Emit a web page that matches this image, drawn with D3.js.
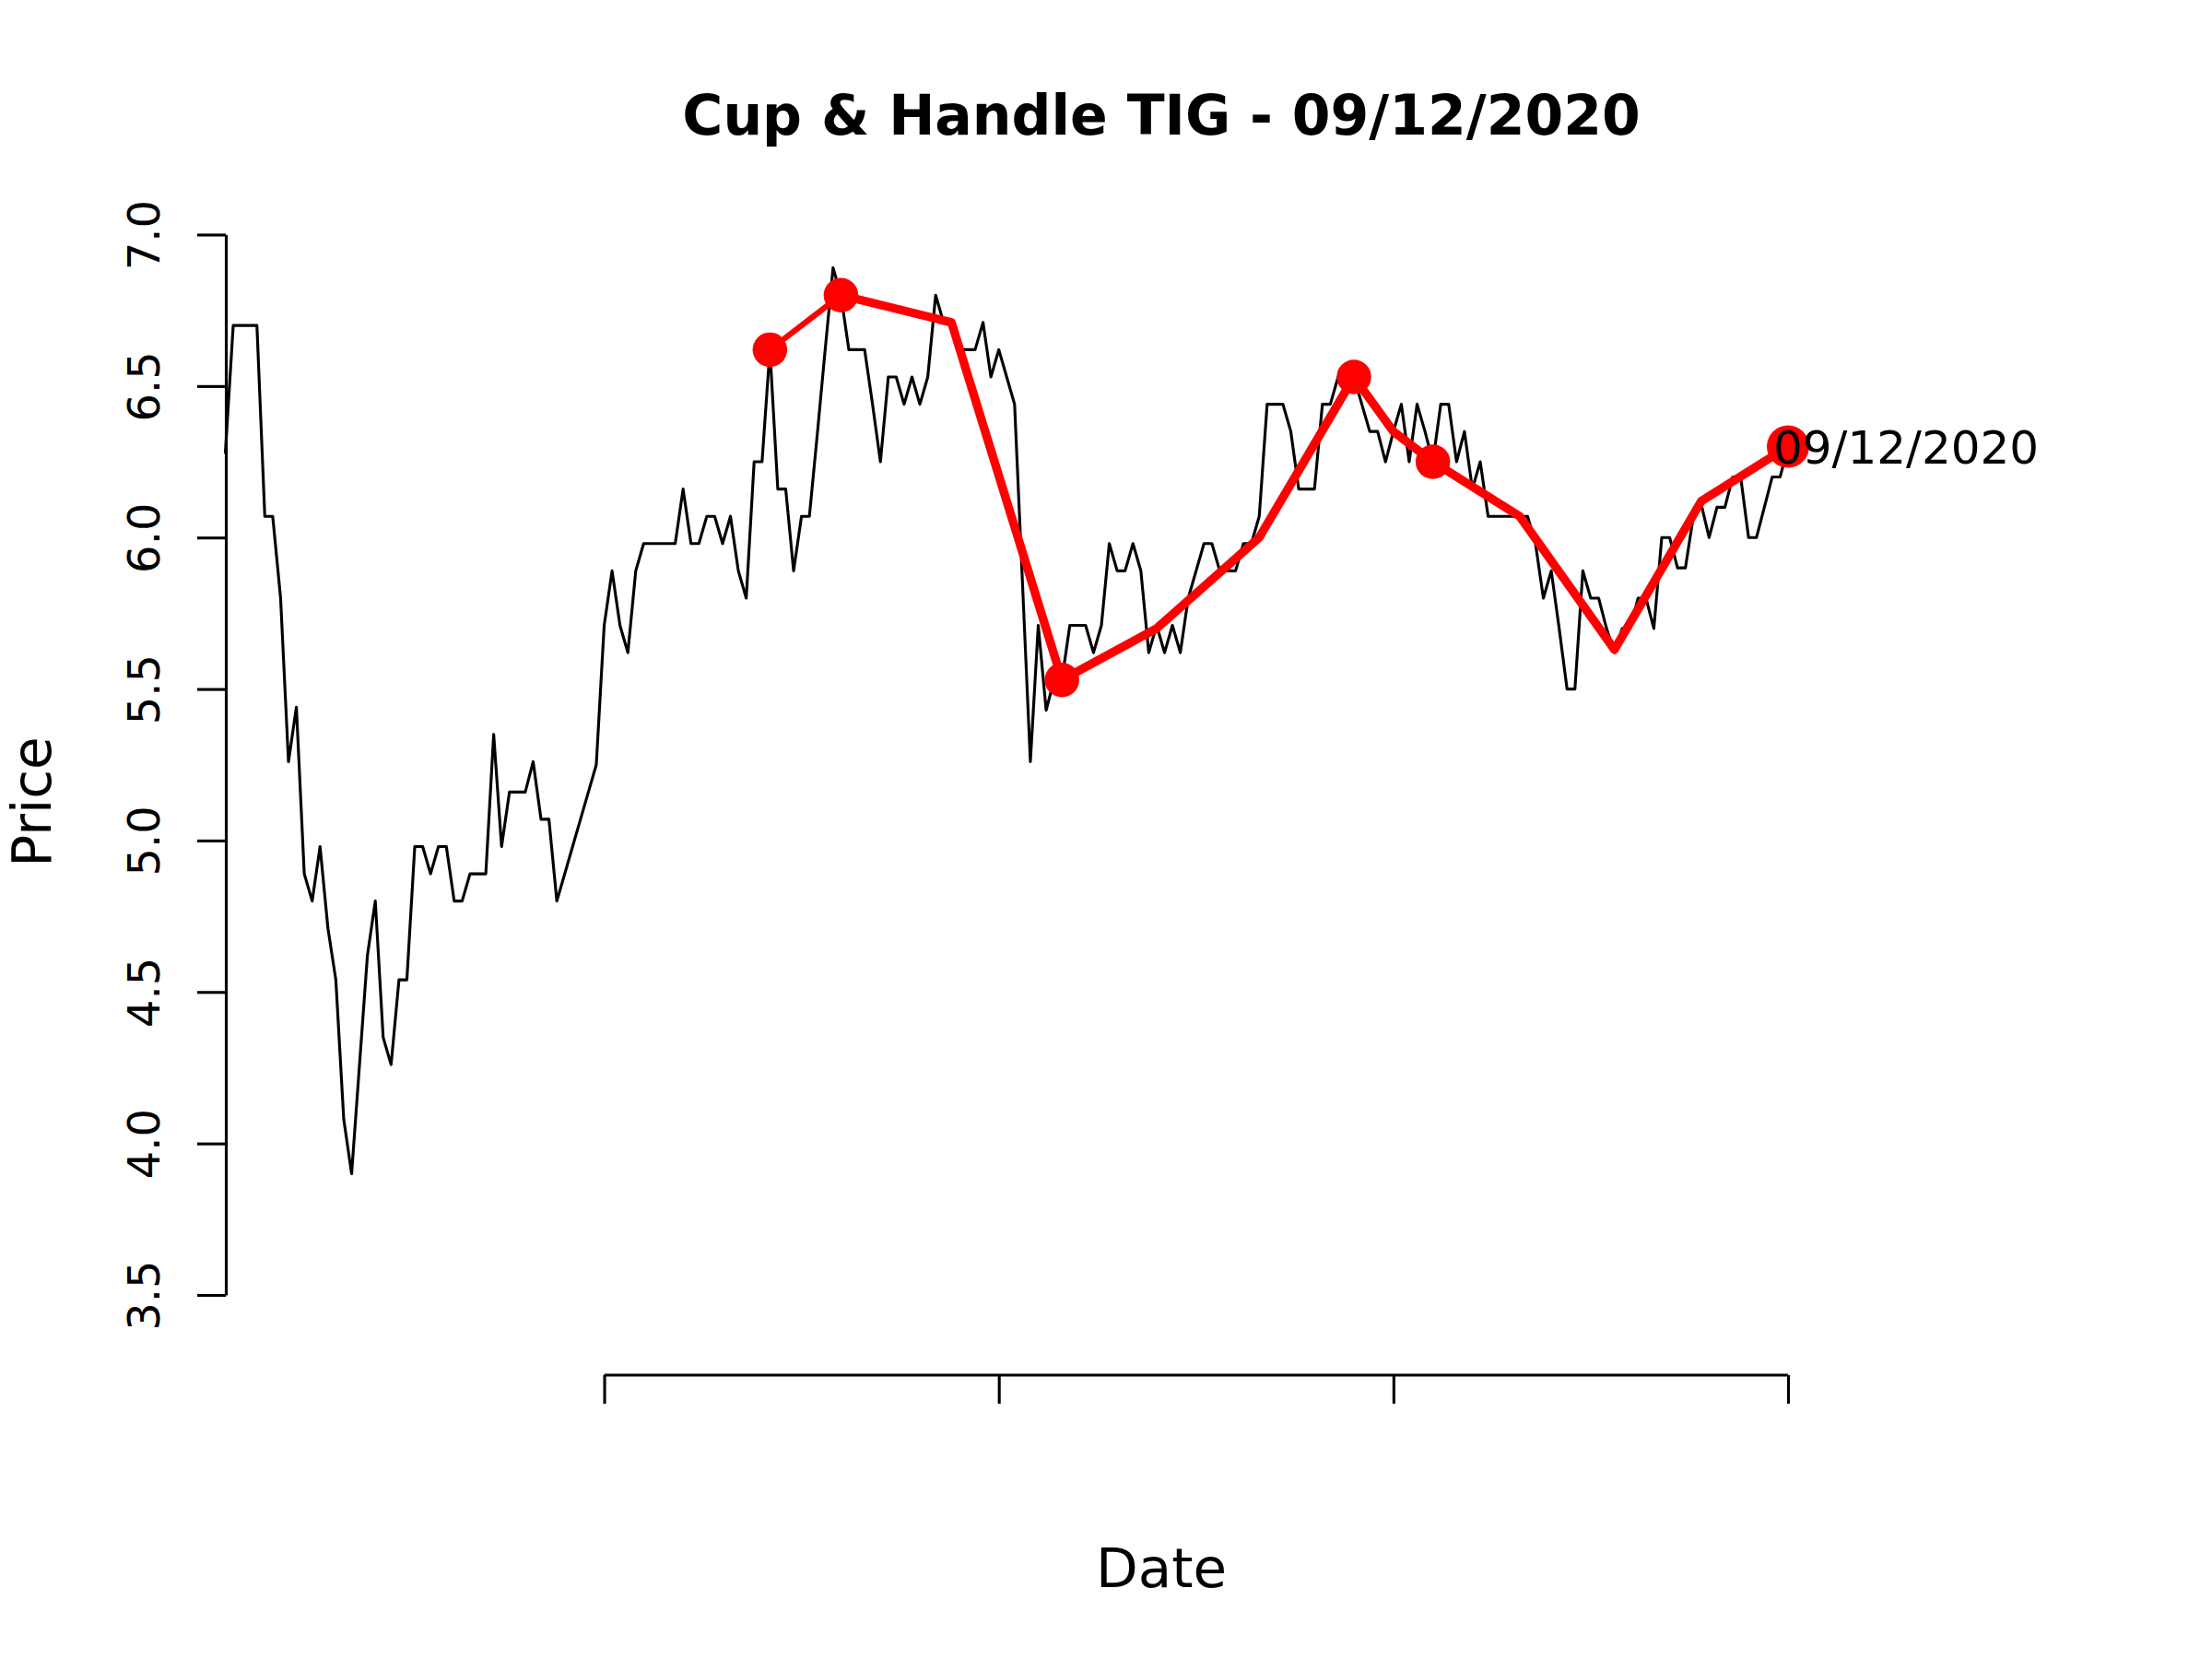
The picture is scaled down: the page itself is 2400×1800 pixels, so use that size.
<!DOCTYPE html>
<html>
<head>
<meta charset="utf-8">
<script src="https://cdn.jsdelivr.net/npm/d3@7"></script>
<style>
  body { margin: 0; background: #fff; }
  svg text { font-family: "DejaVu Sans", sans-serif; fill: #000; }
</style>
</head>
<body>
<div id="graph"></div>
<script>
// Closing prices, one per trading day (array index = day number)
const closePrices = [
  6.28, 6.70, 6.70, 6.70, 6.70, 6.07, 6.07, 5.80, 5.26, 5.44,
  4.89, 4.80, 4.98, 4.71, 4.54, 4.08, 3.90, 4.26, 4.62, 4.80,
  4.35, 4.26, 4.54, 4.54, 4.98, 4.98, 4.89, 4.98, 4.98, 4.80,
  4.80, 4.89, 4.89, 4.89, 5.35, 4.98, 5.16, 5.16, 5.16, 5.26,
  5.07, 5.07, 4.80, 4.89, 4.98, 5.07, 5.16, 5.25, 5.71, 5.89,
  5.71, 5.62, 5.89, 5.98, 5.98, 5.98, 5.98, 5.98, 6.16, 5.98,
  5.98, 6.07, 6.07, 5.98, 6.07, 5.89, 5.80, 6.25, 6.25, 6.62,
  6.16, 6.16, 5.89, 6.07, 6.07, 6.34, 6.62, 6.89, 6.80, 6.62,
  6.62, 6.62, 6.44, 6.25, 6.53, 6.53, 6.44, 6.53, 6.44, 6.53,
  6.80, 6.71, 6.71, 6.62, 6.62, 6.62, 6.71, 6.53, 6.62, 6.53,
  6.44, 5.85, 5.26, 5.71, 5.43, 5.53, 5.53, 5.71, 5.71, 5.71,
  5.62, 5.71, 5.98, 5.89, 5.89, 5.98, 5.89, 5.62, 5.71, 5.62,
  5.71, 5.62, 5.80, 5.89, 5.98, 5.98, 5.89, 5.89, 5.89, 5.98,
  5.98, 6.07, 6.44, 6.44, 6.44, 6.35, 6.16, 6.16, 6.16, 6.44,
  6.44, 6.53, 6.53, 6.53, 6.44, 6.35, 6.35, 6.25, 6.35, 6.44,
  6.25, 6.44, 6.35, 6.25, 6.44, 6.44, 6.25, 6.35, 6.16, 6.25,
  6.07, 6.07, 6.07, 6.07, 6.07, 6.07, 5.98, 5.80, 5.89, 5.70,
  5.50, 5.50, 5.89, 5.80, 5.80, 5.70, 5.62, 5.70, 5.70, 5.80,
  5.80, 5.70, 6.00, 6.00, 5.90, 5.90, 6.07, 6.11, 6.00, 6.10,
  6.10, 6.20, 6.20, 6.00, 6.00, 6.10, 6.20, 6.20, 6.30
];

// Cup & handle outline (red)
const patternDays = [69, 78, 92, 106, 118, 131, 143, 148, 153, 164, 176, 187, 198];
const patternPrices = [6.62, 6.80, 6.71, 5.53, 5.70, 6.00, 6.53, 6.35, 6.25, 6.07, 5.63, 6.12, 6.30];
// pattern points that get a dot
const markedDays = [69, 78, 106, 143, 153, 198];

const yTicks = [3.5, 4.0, 4.5, 5.0, 5.5, 6.0, 6.5, 7.0];
const xTickDays = [48, 98, 148, 198];

const TITLE = "Cup & Handle TIG - 09/12/2020";
const LAST_LABEL = "09/12/2020";

// ------------------------ D3 ------------------------
const WIDTH = 2400;
const HEIGHT = 1800;
const AXIS_X = 245;
const AXIS_Y = 1492;
const LWD = 3.125; // R lwd = 1 at 300 dpi

const SVG = d3
  .select("#graph")
  .append("svg")
  .attr("width", WIDTH)
  .attr("height", HEIGHT);

const x = d3.scaleLinear().domain([0, closePrices.length - 1]).range([244.5, 1940]);
const y = d3.scaleLinear().domain([3.5, 7.0]).range([1405, 254.5]);

// y axis, labels parallel to the axis like R's default
const yAxis = SVG.append("g")
  .attr("transform", `translate(${AXIS_X}, 0)`)
  .call(
    d3.axisLeft(y)
      .tickValues(yTicks)
      .tickSize(31)
      .tickSizeOuter(0)
      .tickFormat(d3.format(".1f"))
  );
yAxis.selectAll("path, line").attr("stroke", "#000").attr("stroke-width", LWD);
yAxis.selectAll("text")
  .attr("transform", "rotate(-90)")
  .attr("x", 0)
  .attr("y", -72)
  .attr("dy", null)
  .attr("text-anchor", "middle")
  .style("font-size", "48px")
  .style("font-family", "DejaVu Sans, sans-serif");

// x axis: ticks only, no labels, line only between first and last tick
const xAxis = SVG.append("g")
  .attr("transform", `translate(0, ${AXIS_Y})`)
  .call(
    d3.axisBottom(x)
      .tickValues(xTickDays)
      .tickSize(31)
      .tickSizeOuter(0)
      .tickFormat(() => "")
  );
xAxis.select(".domain")
  .attr("d", `M${x(xTickDays[0])},0H${x(xTickDays[xTickDays.length - 1])}`);
xAxis.selectAll("path, line").attr("stroke", "#000").attr("stroke-width", LWD);

// price line
const priceLine = d3.line()
  .x((d, i) => x(i))
  .y((d) => y(d));

SVG.append("path")
  .datum(closePrices)
  .attr("d", priceLine)
  .attr("fill", "none")
  .attr("stroke", "#000")
  .attr("stroke-width", LWD)
  .attr("stroke-linejoin", "round")
  .attr("stroke-linecap", "round");

// pattern outline, first leg thinner
const pattern = patternDays.map((d, i) => ({ day: d, price: patternPrices[i] }));
const patLine = d3.line()
  .x((d) => x(d.day))
  .y((d) => y(d.price));

SVG.append("path")
  .datum(pattern.slice(0, 2))
  .attr("d", patLine)
  .attr("fill", "none")
  .attr("stroke", "#ff0000")
  .attr("stroke-width", LWD * 2)
  .attr("stroke-linecap", "round");

SVG.append("path")
  .datum(pattern.slice(1))
  .attr("d", patLine)
  .attr("fill", "none")
  .attr("stroke", "#ff0000")
  .attr("stroke-width", LWD * 3)
  .attr("stroke-linejoin", "round")
  .attr("stroke-linecap", "round");

const lastDay = patternDays[patternDays.length - 1];
SVG.selectAll("circle.dot")
  .data(pattern.filter((d) => markedDays.includes(d.day)))
  .join("circle")
  .attr("class", "dot")
  .attr("cx", (d) => x(d.day))
  .attr("cy", (d) => y(d.price))
  .attr("r", (d) => (d.day === lastDay ? 23 : 18.75))
  .attr("fill", "#ff0000");

// label on the last point
SVG.append("text")
  .attr("x", x(lastDay) - 16)
  .attr("y", y(patternPrices[patternPrices.length - 1]) + 18)
  .style("font-size", "50px")
  .text(LAST_LABEL);

// titles
SVG.append("text")
  .attr("x", 1260)
  .attr("y", 146)
  .attr("text-anchor", "middle")
  .style("font-size", "60px")
  .style("font-weight", "bold")
  .text(TITLE);

SVG.append("text")
  .attr("x", 1260)
  .attr("y", 1722)
  .attr("text-anchor", "middle")
  .style("font-size", "59.5px")
  .text("Date");

SVG.append("text")
  .attr("transform", "translate(55, 870) rotate(-90)")
  .attr("text-anchor", "middle")
  .style("font-size", "58px")
  .text("Price");
</script>
</body>
</html>
